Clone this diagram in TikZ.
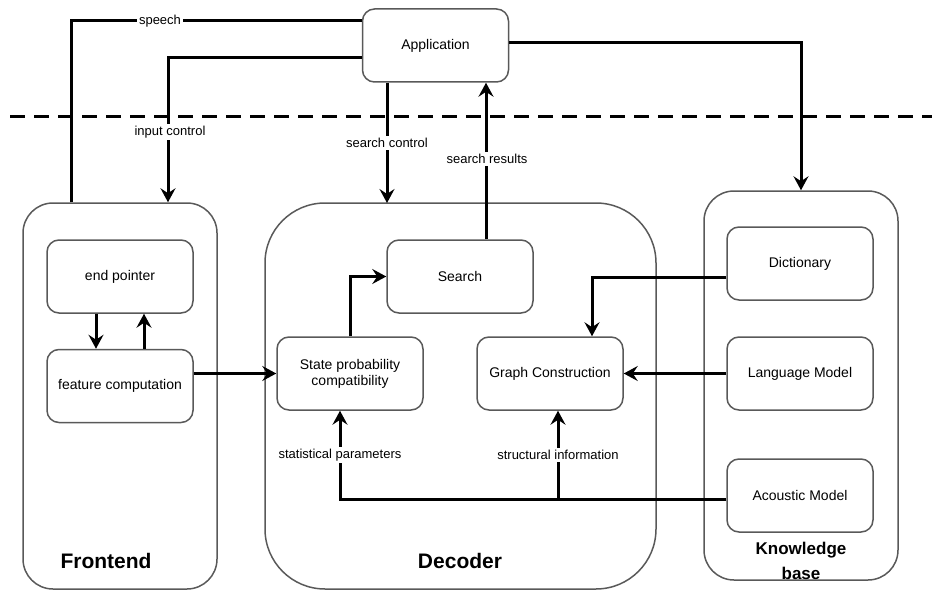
\documentclass[tikz,border=0pt]{standalone}
\usepackage{fontspec}
\setmainfont{Liberation Sans}
\usetikzlibrary{arrows.meta,positioning}
\tikzset{
  outer/.style={draw=black!65, line width=1.5pt, rounded corners=30pt, inner sep=0pt},
  inbox/.style={draw=black!65, line width=1.5pt, rounded corners=12pt, minimum width=146pt, minimum height=73pt, align=center, font=\fontsize{14}{16}\selectfont, inner sep=0pt},
  conn/.style={line width=3pt, -{Stealth[length=14pt,width=15pt,inset=5pt]}},
  plain/.style={line width=3pt},
  lbl/.style={fill=white, inner sep=2pt, font=\fontsize{13}{15}\selectfont},
  title/.style={font=\bfseries\fontsize{21}{24}\selectfont, align=center},
}
\begin{document}
\begin{tikzpicture}[x=1pt,y=-1pt]
\useasboundingbox (0,0) rectangle (932,591);
% dashed separator
\draw[line width=3pt, dash pattern=on 15pt off 9pt] (10,117) -- (932,117);
% containers
\node[outer, minimum width=194pt, minimum height=386pt] (frontend) at (120,396) {};
\node[outer, rounded corners=60pt, minimum width=391pt, minimum height=386pt] (decoder) at (460.5,396) {};
\node[outer, minimum width=194pt, minimum height=389pt] (knowledge) at (801,385.5) {};
% titles
\node[title] (tfront) at (106,561) {Frontend};
\node[title] (tdec) at (460,561) {Decoder};
\node[title, font=\bfseries\fontsize{17}{25}\selectfont] (tknow) at (801,561) {Knowledge\\base};
% boxes
\node[inbox] (app) at (435.5,45.5) {Application};
\node[inbox] (endp) at (120,276.5) {end pointer};
\node[inbox] (feat) at (120,386) {feature computation};
\node[inbox] (state) at (350,373.5) {State probability\\compatibility};
\node[inbox] (search) at (460,276.5) {Search};
\node[inbox] (graph) at (550,373.5) {Graph Construction};
\node[inbox] (dict) at (800,263.5) {Dictionary};
\node[inbox] (lang) at (800,373.5) {Language Model};
\node[inbox] (acou) at (800,495.5) {Acoustic Model};
% helper coordinates
\coordinate (sp) at (71,21);
\coordinate (ic) at (168,58);
\coordinate (kb) at (801,43);
\coordinate (dc) at (592,277);
\coordinate (ac) at (340,499);
\coordinate (br) at (558,499);
% connectors
\draw[plain] (frontend.north -| sp) -- (sp) -- (app.west |- sp);
\node[lbl] (lspeech) at (160,21) {speech};
\draw[conn] (app.west |- ic) -- (ic) -- (ic |- frontend.north);
\node[lbl] (linput) at (170,132) {input control};
\draw[conn] (app.south -| 387,0) -- (387,203);
\node[lbl] (lsearchc) at (387,143) {search control};
\draw[conn] (search.north -| 486,0) -- (app.south -| 486,0);
\node[lbl] (lsearchr) at (487,159) {search results};
\draw[conn] (app.east |- kb) -- (kb) -- (kb |- knowledge.north);
\draw[conn] (endp.south -| 96,0) -- (feat.north -| 96,0);
\draw[conn] (feat.north -| 144,0) -- (endp.south -| 144,0);
\draw[conn] (feat.east |- state.west) -- (state.west);
\draw[conn] (state.north) |- (search.west);
\draw[conn] (dict.west |- dc) -- (dc) -- (dc |- graph.north);
\draw[conn] (lang.west) -- (graph.east);
\draw[conn] (acou.west |- ac) -- (ac) -- (ac |- state.south);
\draw[conn] (br) -- (br |- graph.south);
\node[lbl] (lstat) at (340,455) {statistical parameters};
\node[lbl] (lstruct) at (558,455) {structural information};
\end{tikzpicture}
\end{document}
